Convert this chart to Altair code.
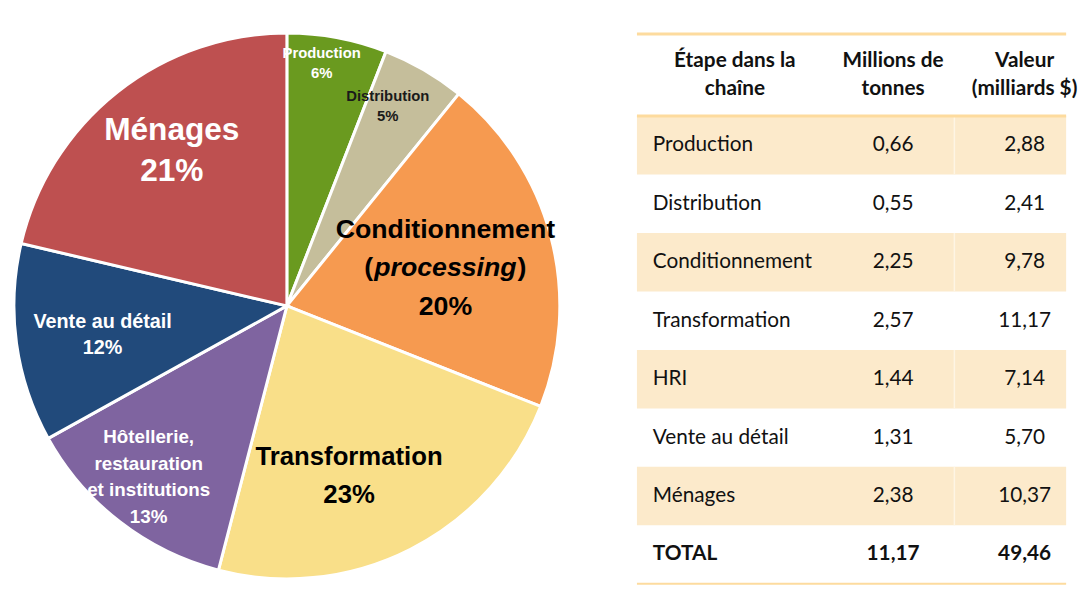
import altair as alt
import pandas as pd

# ---------------- data ----------------
stages = ["Production", "Distribution", "Conditionnement", "Transformation",
          "HRI", "Vente au détail", "Ménages"]
tonnes = [0.66, 0.55, 2.25, 2.57, 1.44, 1.31, 2.38]
valeur = [2.88, 2.41, 9.78, 11.17, 7.14, 5.70, 10.37]
total_label = "TOTAL"
total_tonnes = 11.17
total_valeur = 49.46

pie_names = ["Production", "Distribution", "Conditionnement", "Transformation",
             "Hôtellerie,\nrestauration\net institutions", "Vente au détail", "Ménages"]
pie_pct = ["6%", "5%", "20%", "23%", "13%", "12%", "21%"]
pie_sub = ["", "", "processing", "", "", "", ""]

header = ["Étape dans la\nchaîne", "Millions de\ntonnes", "Valeur\n(milliards $)"]

# ---------------- styles ----------------
slice_colors = ["#6A9A1F", "#C5BE9B", "#F69A50", "#F9DF89", "#7F64A0", "#214A7B", "#BE5050"]
# fontSize, color, lineHeight, label radius, dx, dy
label_style = [
    (15, "#FFFFFF", 20, 250, -11, 0),
    (15, "#1A1A1A", 21, 229, -13, -4),
    (27, "#000000", 39, 174, -8, 6),
    (26, "#000000", 38, 183, -20, 9),
    (19, "#FFFFFF", 27, 212, -10, 5.5),
    (20, "#FFFFFF", 27, 177, -11, 5),
    (32, "#FFFFFF", 42, 189, 1, -9),
]
PIE_FONT = "Liberation Sans"
TAB_FONT = "Lato"
PIE_W, PIE_H = 618, 580
CX, CY, R = 276, 298, 276
TAB_W, TAB_H = 434, 579
col_x = [16, 259, 392]
header_x = [99, 259, 392]
divider_x = 321
shade_color = "#FCEACB"
line_color = "#FDDB9E"


def fr(v):
    return f"{v:.2f}".replace(".", ",")


# ---------------- pie ----------------
pie_df = pd.DataFrame({
    "cat": stages,
    "val": tonnes,
    "idx": list(range(len(stages))),
    "name": pie_names,
    "pct": pie_pct,
    "pl": ["(" if s else "" for s in pie_sub],
    "pm": pie_sub,
    "pr": [")" if s else "" for s in pie_sub],
})

base = alt.Chart(pie_df).encode(
    theta=alt.Theta("val:Q", stack=True),
    order=alt.Order("idx:Q"),
    x=alt.value(CX),
    y=alt.value(CY),
)

arcs = base.mark_arc(radius=R, stroke="white", strokeWidth=3).encode(
    color=alt.Color("cat:N", scale=alt.Scale(domain=stages, range=slice_colors), legend=None)
)


def label_layer(i, field, dy_total, style_extra=None, align="center", dx_extra=0):
    fs, col, lh, r, dx, dy = label_style[i]
    kw = dict(radius=r, fontSize=fs, color=col, lineHeight=lh, lineBreak="\n",
              font=PIE_FONT, fontWeight="bold", dx=dx + dx_extra, dy=dy_total,
              align=align, baseline="middle")
    if style_extra:
        kw.update(style_extra)
    return base.transform_calculate(
        lt=f"datum.idx == {i} ? datum.{field} : ''"
    ).mark_text(**kw).encode(text="lt:N")


layers = [arcs]
for i, (fs, col, lh, r, dx, dy) in enumerate(label_style):
    nname = pie_names[i].count("\n") + 1
    nlines = nname + 1 + (1 if pie_sub[i] else 0)
    top = dy - (nlines - 1) * lh / 2
    layers.append(label_layer(i, "name", top))
    layers.append(label_layer(i, "pct", top + (nlines - 1) * lh))
    if pie_sub[i]:
        mid = top + nname * lh
        half = 73
        layers.append(label_layer(i, "pl", mid, align="right", dx_extra=-half))
        layers.append(label_layer(i, "pm", mid, style_extra={"fontStyle": "italic"}))
        layers.append(label_layer(i, "pr", mid, align="left", dx_extra=half))

pie = alt.layer(*layers).properties(width=PIE_W, height=PIE_H)

# ---------------- table ----------------
rows = stages + [total_label]
t_vals = [fr(v) for v in tonnes] + [fr(total_tonnes)]
v_vals = [fr(v) for v in valeur] + [fr(total_valeur)]
n = len(rows)

ys = alt.Scale(domain=[-1.794, n], reverse=True, nice=False, zero=False)
xs = alt.Scale(domain=[0, TAB_W], nice=False, zero=False)

band_df = pd.DataFrame({
    "row": list(range(n)),
    "row1": [i + 1 for i in range(n)],
    "shade": [i % 2 == 0 for i in range(n)],
    "xd": [divider_x] * n,
})

bands = alt.Chart(band_df).transform_filter("datum.shade").mark_rect(
    color=shade_color
).encode(
    y=alt.Y("row:Q", scale=ys, axis=None),
    y2="row1:Q",
    x=alt.value(0),
    x2=alt.value("width"),
)

divider = alt.Chart(band_df).transform_filter("datum.shade").mark_rule(
    color="#FEF5E4", strokeWidth=1.5
).encode(
    y=alt.Y("row:Q", scale=ys, axis=None),
    y2="row1:Q",
    x=alt.X("xd:Q", scale=xs, axis=None),
)

hl_df = pd.DataFrame({"y": [-1.405, 0, n], "sw": [3, 3, 2]})
hlines = alt.Chart(hl_df).mark_rule(color=line_color).encode(
    y=alt.Y("y:Q", scale=ys, axis=None),
    x=alt.value(0),
    x2=alt.value("width"),
    strokeWidth=alt.StrokeWidth("sw:Q", scale=None, legend=None),
)

cells = []
for i in range(n):
    for c, txt in enumerate([rows[i], t_vals[i], v_vals[i]]):
        cells.append({"row": i + 0.5, "col": c, "x": col_x[c], "text": txt,
                      "bold": rows[i] == total_label})
cells_df = pd.DataFrame(cells)


def cell_layer(cond, align, weight):
    return alt.Chart(cells_df).transform_filter(cond).mark_text(
        font=TAB_FONT, fontSize=21, color="#111111", align=align,
        baseline="middle", fontWeight=weight,
    ).encode(
        x=alt.X("x:Q", scale=xs, axis=None),
        y=alt.Y("row:Q", scale=ys, axis=None),
        text="text:N",
    )


c1 = cell_layer("datum.col == 0 && !datum.bold", "left", "normal")
c2 = cell_layer("datum.col > 0 && !datum.bold", "center", "normal")
c3 = cell_layer("datum.col == 0 && datum.bold", "left", "bold")
c4 = cell_layer("datum.col > 0 && datum.bold", "center", "bold")

head_df = pd.DataFrame({"x": header_x, "y": [-0.70] * 3, "text": header})
heads = alt.Chart(head_df).mark_text(
    font=TAB_FONT, fontSize=21, fontWeight="bold", color="#111111",
    align="center", baseline="middle", lineBreak="\n", lineHeight=29, dy=-14.5,
).encode(
    x=alt.X("x:Q", scale=xs, axis=None),
    y=alt.Y("y:Q", scale=ys, axis=None),
    text="text:N",
)

table = alt.layer(bands, divider, hlines, c1, c2, c3, c4, heads).properties(
    width=TAB_W, height=TAB_H
)

chart = alt.hconcat(pie, table, spacing=10).properties(padding=0).configure_view(stroke=None)
chart.save("out.html", embed_options={"renderer": "svg", "actions": False})
